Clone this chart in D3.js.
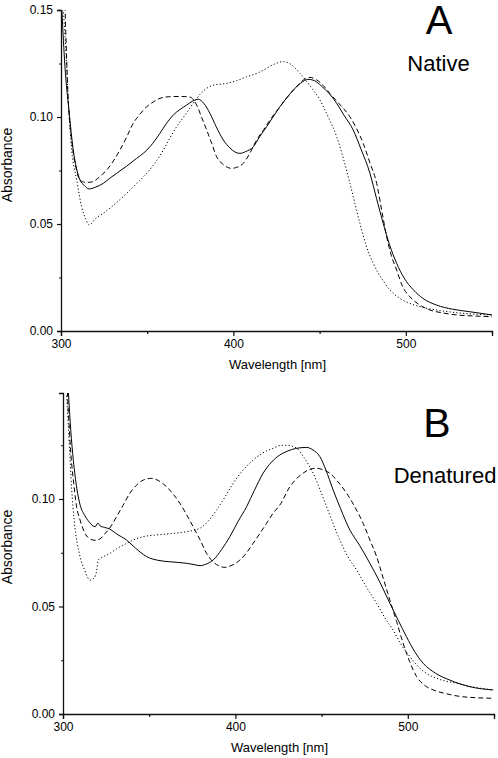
<!DOCTYPE html>
<html><head><meta charset="utf-8">
<script src="https://cdn.jsdelivr.net/npm/d3@7"></script>
<style>
html,body{margin:0;padding:0;background:#fff;}
svg{display:block;font-family:"Liberation Sans",Arial,sans-serif;}
</style></head>
<body><svg id="c" width="498" height="758"></svg>
<script>
// ---- data: [wavelength nm, absorbance] ----
const nativeSolid = [[300.5,0.150],[302.3,0.1235],[304.6,0.1033],[307.1,0.0846],[309,0.076],[311,0.0706],[313.5,0.068],[316.2,0.0664],[320,0.0672],[324.5,0.069],[328,0.0712],[332.3,0.0737],[338,0.077],[343.9,0.0807],[348,0.0832],[351.6,0.0861],[357.4,0.0924],[361,0.0968],[365.1,0.1009],[369,0.1035],[372.9,0.1056],[376.5,0.1075],[379.6,0.1083],[383,0.1062],[386.4,0.1017],[390,0.0955],[394.1,0.0893],[398,0.0855],[401,0.0836],[403.8,0.083],[407,0.0838],[411.6,0.0861],[415,0.0905],[419.3,0.0955],[423,0.1],[427,0.1048],[431,0.109],[435,0.1128],[439,0.1158],[443.4,0.1176],[447,0.117],[451,0.1145],[455.5,0.111],[459.9,0.1064],[464,0.101],[469.5,0.0939],[474,0.085],[479.2,0.0737],[483,0.062],[486.9,0.0503],[490.5,0.0405],[494.7,0.0316],[499,0.0248],[504.4,0.0192],[510,0.0152],[517.9,0.0121],[527,0.0102],[537.2,0.009],[550,0.0075]];
const nativeDashed = [[302.3,0.152],[304.2,0.108],[306.2,0.089],[308.5,0.077],[311,0.0706],[314,0.0695],[316.8,0.0695],[320,0.0705],[323,0.0725],[326.5,0.0752],[330,0.079],[334.2,0.0846],[338,0.0905],[341.9,0.097],[346,0.1015],[349.7,0.1048],[353.5,0.107],[357.4,0.1087],[363,0.1095],[369,0.1096],[374.8,0.1093],[378.7,0.1056],[381.5,0.1],[384.5,0.0939],[387.5,0.0875],[390.3,0.0814],[393.5,0.0782],[396.5,0.0765],[399,0.076],[402,0.0765],[405.8,0.0784],[409.5,0.083],[413.5,0.0893],[417.5,0.094],[421.2,0.0986],[427,0.1048],[432,0.11],[437,0.1145],[441,0.1175],[444.4,0.1185],[448,0.1175],[452,0.1148],[456,0.111],[461,0.1065],[467.6,0.1001],[471.5,0.0945],[475.3,0.0877],[479,0.079],[483.1,0.069],[486,0.0565],[488.9,0.0441],[491.5,0.0355],[494.7,0.0285],[498,0.021],[502.4,0.016],[508,0.0122],[514,0.0098],[521,0.0085],[529.5,0.0075],[540,0.007],[550,0.0067]];
const nativeDotted = [[301.2,0.152],[303.3,0.1235],[304.2,0.108],[306.2,0.0846],[309.1,0.0706],[312,0.058],[314.5,0.052],[316.4,0.0495],[320,0.0525],[324.5,0.055],[330,0.0585],[338.1,0.0643],[344,0.069],[349.7,0.0737],[355,0.079],[359.4,0.0846],[363,0.09],[367.1,0.0955],[372,0.101],[376.7,0.1064],[380.5,0.1105],[384.5,0.1134],[389,0.115],[396.1,0.1157],[402,0.117],[407.7,0.1188],[414,0.1205],[419.3,0.1228],[424,0.1248],[429,0.1259],[433.5,0.1245],[438.6,0.1204],[444,0.115],[450.2,0.1079],[455,0.1],[459.9,0.0908],[464,0.08],[467.6,0.069],[470.5,0.0595],[473.4,0.0503],[477,0.04],[481.1,0.0316],[486,0.0245],[490.8,0.0192],[496,0.0155],[502.4,0.0129],[510,0.011],[517.9,0.0098],[530,0.0085],[550,0.0075]];

const denatSolid = [[303.1,0.150],[304.5,0.132],[306,0.118],[308,0.105],[310,0.097],[312.5,0.0925],[315,0.0895],[318.6,0.0871],[320.3,0.0888],[321.5,0.0875],[324,0.0868],[327.2,0.086],[331,0.0838],[336.9,0.0809],[342,0.0772],[348.5,0.0732],[355,0.0715],[362,0.0708],[371.7,0.0701],[376,0.0695],[379.4,0.069],[383,0.0697],[387.1,0.0716],[392,0.0765],[396.8,0.0825],[401.5,0.0895],[406.5,0.0964],[411,0.104],[416.1,0.112],[421,0.1172],[425.8,0.1205],[430,0.1222],[435,0.1235],[441.3,0.124],[445,0.1228],[449,0.1197],[452.5,0.1135],[456.7,0.1042],[461,0.0955],[466.4,0.0856],[472,0.0785],[478,0.0701],[484,0.061],[489.6,0.0515],[494.5,0.0435],[499.2,0.036],[504,0.029],[508.9,0.0236],[516,0.019],[524.3,0.0158],[536,0.0127],[549.5,0.0112]];
const denatDashed = [[302.5,0.150],[305,0.1166],[306,0.109],[307.9,0.0964],[309.9,0.0902],[312.8,0.084],[315.5,0.0815],[318.5,0.0808],[321.5,0.0815],[324,0.0835],[327.5,0.087],[331.1,0.0918],[334.8,0.097],[338.8,0.1027],[342.5,0.1063],[346.6,0.1088],[351.4,0.1096],[355.5,0.1085],[360.1,0.1057],[364,0.1022],[367.8,0.098],[371.5,0.093],[375.5,0.0871],[379.5,0.081],[383.3,0.0747],[386.5,0.0712],[389.1,0.0695],[393.9,0.0682],[398,0.0692],[402.6,0.0716],[406.5,0.075],[410.3,0.0794],[414.2,0.084],[418.1,0.0887],[422,0.0935],[425.8,0.0972],[431.6,0.1057],[435.5,0.1095],[439.3,0.112],[443,0.1138],[447.1,0.1143],[451,0.1135],[454.8,0.112],[459.5,0.108],[464.5,0.1027],[469.5,0.096],[474.1,0.0887],[478,0.081],[481.9,0.0732],[485.8,0.063],[489.6,0.053],[493.5,0.043],[497.3,0.0329],[501,0.0245],[505.1,0.0174],[509.5,0.0135],[514.7,0.0112],[522,0.0095],[532.1,0.008],[549.5,0.0073]];
const denatDotted = [[302.1,0.148],[303.5,0.128],[305,0.105],[306.5,0.09],[309.9,0.0732],[312.5,0.067],[315.7,0.0623],[318,0.0632],[319.5,0.0665],[320.5,0.0716],[323,0.073],[327.2,0.0747],[331,0.0768],[336.9,0.0794],[341,0.081],[346.6,0.0825],[353,0.0832],[360.1,0.0837],[366,0.0842],[371.7,0.0848],[376,0.0855],[379.4,0.0864],[384,0.0895],[389.1,0.0949],[394,0.101],[398.7,0.1073],[404,0.113],[410.3,0.1181],[416,0.1215],[421.9,0.1236],[426,0.1249],[430,0.125],[435.5,0.1236],[440,0.119],[445.1,0.112],[449,0.1045],[452.9,0.0964],[456.7,0.0885],[460.6,0.0809],[465,0.0735],[470.3,0.067],[476,0.059],[481.9,0.0515],[486.5,0.045],[491.5,0.039],[496,0.0325],[501.2,0.0267],[505.5,0.0225],[510.8,0.0189],[518,0.0162],[528.2,0.0143],[538,0.0125],[549.5,0.0112]];

const xMajorTicks = [300, 400, 500];
const xMinorTicks = [350, 450, 550];
const yMajorTicksA = [0, 0.05, 0.10, 0.15];
const yMajorTicksB = [0, 0.05, 0.10];
const yMinorTicks = [0.025, 0.075, 0.125];
const panelLetters = ["A", "B"];
const panelNames = ["Native", "Denatured"];
const xTitle = "Wavelength [nm]";
const yTitle = "Absorbance";

const svg = d3.select("#c");

const styles = {
  solid: null,
  dashed: "5,3",
  dotted: "1.2,2.2"
};

function panel(idx, cfg) {
  const x = d3.scaleLinear().domain([300, 550]).range([cfg.x0, cfg.x1]);
  const y = d3.scaleLinear().domain([0, cfg.ymax]).range([cfg.y0, cfg.y1]);
  const g = svg.append("g");

  const clipId = "clip" + idx;
  svg.append("clipPath").attr("id", clipId).append("rect")
    .attr("x", cfg.x0).attr("y", cfg.y1).attr("width", cfg.x1 - cfg.x0).attr("height", cfg.y0 - cfg.y1);

  const line = d3.line().x(d => x(d[0])).y(d => y(d[1])).curve(d3.curveMonotoneX);
  const lg = g.append("g").attr("clip-path", `url(#${clipId})`);
  cfg.series.forEach(s => {
    lg.append("path").attr("d", line(s.data)).attr("fill", "none")
      .attr("stroke", "#000").attr("stroke-width", 1)
      .attr("stroke-dasharray", styles[s.style]);
  });

  // axes
  g.append("g").attr("transform", `translate(0,${cfg.y0})`)
    .call(d3.axisBottom(x).tickValues(xMajorTicks).tickFormat(d3.format("d")).tickSize(5).tickPadding(3));
  g.append("g").attr("transform", `translate(0,${cfg.y0})`)
    .call(d3.axisBottom(x).tickValues(xMinorTicks).tickFormat("").tickSize(3))
    .select(".domain").remove();
  g.append("g").attr("transform", `translate(${cfg.x0},0)`)
    .call(d3.axisLeft(y).tickValues(cfg.yTicks).tickFormat(d3.format(".2f")).tickSize(4).tickPadding(4));
  g.append("g").attr("transform", `translate(${cfg.x0},0)`)
    .call(d3.axisLeft(y).tickValues(yMinorTicks).tickFormat("").tickSize(2))
    .select(".domain").remove();
  g.selectAll(".domain").attr("stroke", "#111").attr("stroke-width", 1.3);
  g.selectAll(".tick line").attr("stroke", "#111").attr("stroke-width", 1.2);
  g.selectAll(".tick text").attr("font-size", 12).attr("fill", "#000")
    .attr("font-family", '"Liberation Sans",Arial,sans-serif');

  g.append("text").attr("x", (cfg.x0 + cfg.x1) / 2 + 1).attr("y", cfg.y0 + 38)
    .attr("text-anchor", "middle").attr("font-size", 13).text(xTitle);
  g.append("text").attr("transform", `translate(12,${cfg.yTitleY}) rotate(-90)`)
    .attr("text-anchor", "middle").attr("font-size", 14).text(yTitle);

  g.append("text").attr("x", cfg.letterX).attr("y", cfg.letterY)
    .attr("text-anchor", "middle").attr("font-size", cfg.letterSize).text(panelLetters[idx]);
  g.append("text").attr("x", cfg.nameX).attr("y", cfg.nameY)
    .attr("text-anchor", "middle").attr("font-size", 22).text(panelNames[idx]);
}

panel(0, {
  x0: 61, x1: 492, y0: 331, y1: 10, ymax: 0.15, yTicks: yMajorTicksA,
  yTitleY: 165, letterX: 439, letterY: 34, letterSize: 40, nameX: 438.5, nameY: 71,
  series: [{data: nativeSolid, style: "solid"}, {data: nativeDashed, style: "dashed"}, {data: nativeDotted, style: "dotted"}]
});
panel(1, {
  x0: 63, x1: 494, y0: 714, y1: 393, ymax: 0.1493, yTicks: yMajorTicksB,
  yTitleY: 547, letterX: 437, letterY: 437, letterSize: 41, nameX: 445, nameY: 483,
  series: [{data: denatSolid, style: "solid"}, {data: denatDashed, style: "dashed"}, {data: denatDotted, style: "dotted"}]
});
</script></body></html>
